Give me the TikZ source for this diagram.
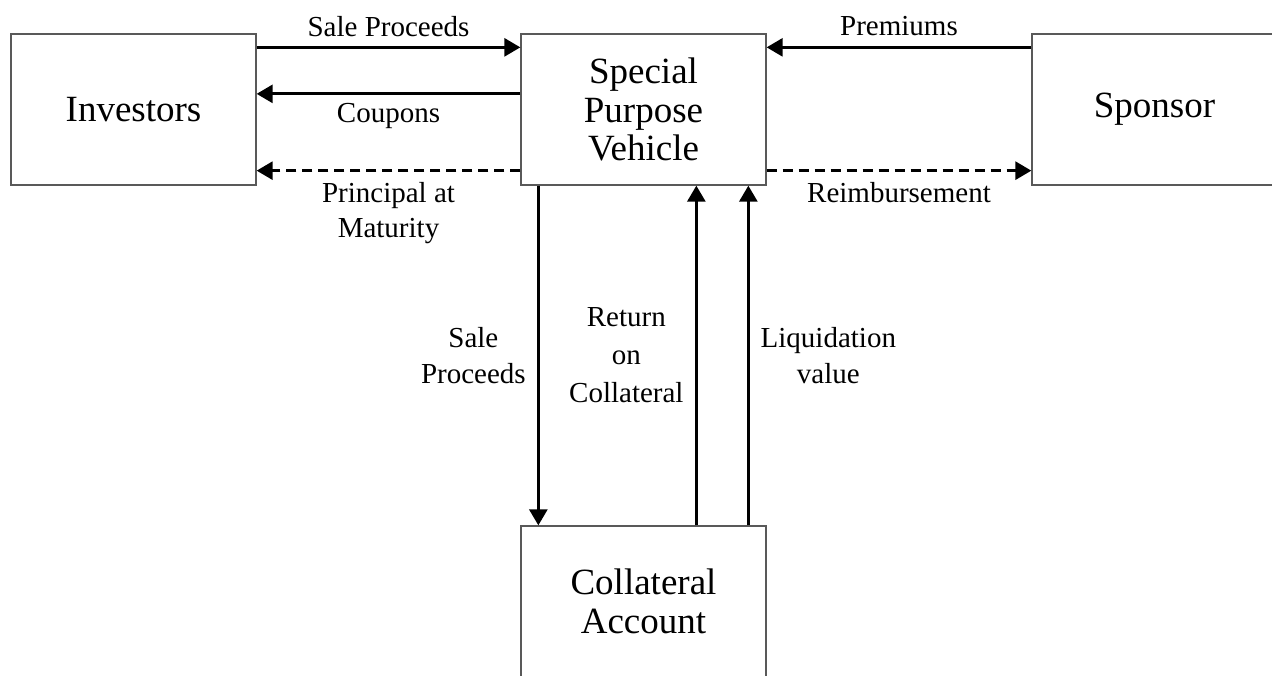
\documentclass[tikz,border=0pt]{standalone}
\usepackage{fontspec}
\setmainfont{Liberation Serif}
\usetikzlibrary{arrows.meta}
\begin{document}
\begin{tikzpicture}[x=1pt,y=-1pt,
  box/.style={draw=black!65, line width=1.3pt, minimum width=245pt, minimum height=151pt,
    inner sep=0pt, align=center, font=\fontsize{37}{38.5}\selectfont},
  arr/.style={line width=2.8pt, -{Triangle[length=16pt,width=18pt]}},
  dsh/.style={arr, dash pattern=on 10pt off 6pt},
  lbl/.style={font=\fontsize{29}{36}\selectfont, align=center, inner sep=0pt}]
\useasboundingbox (0,0) rectangle (1272,675);
\node[box] (inv) at (133.5,109.5) {Investors};
\node[box] (spv) at (643.5,109.5) {Special\\Purpose\\Vehicle};
\node[box] (spo) at (1154.5,109.5) {Sponsor};
\node[box] (col) at (643.5,601.5) {Collateral\\Account};
% horizontal flows
\draw[arr] ([yshift=-14pt]inv.north east) -- node[lbl, midway, yshift=21pt] {Sale Proceeds} ([yshift=-14pt]spv.north west);
\draw[arr] ([yshift=-60.5pt]spv.north west) -- node[lbl, midway, yshift=-22pt] {Coupons} ([yshift=-60.5pt]inv.north east);
\draw[dsh] ([yshift=15pt]spv.south west) -- node[lbl, midway, yshift=-42.5pt, font=\fontsize{29}{35}\selectfont] {Principal at\\Maturity} ([yshift=15pt]inv.south east);
\draw[arr] ([yshift=-14pt]spo.north west) -- node[lbl, midway, yshift=21pt] {Premiums} ([yshift=-14pt]spv.north east);
\draw[dsh] ([yshift=15pt]spv.south east) -- node[lbl, midway, yshift=-22pt] {Reimbursement} ([yshift=15pt]spo.south west);
% vertical flows
\draw[arr] ([xshift=18pt]spv.south west) -- node[lbl, midway, xshift=-65pt] {Sale\\Proceeds} ([xshift=18pt]col.north west);
\draw[arr] ([xshift=176pt]col.north west) -- node[lbl, midway, xshift=-70pt, font=\fontsize{29}{38}\selectfont] {Return\\on\\Collateral} ([xshift=176pt]spv.south west);
\draw[arr] ([xshift=228pt]col.north west) -- node[lbl, midway, xshift=80pt] {Liquidation\\value} ([xshift=228pt]spv.south west);
\end{tikzpicture}
\end{document}
